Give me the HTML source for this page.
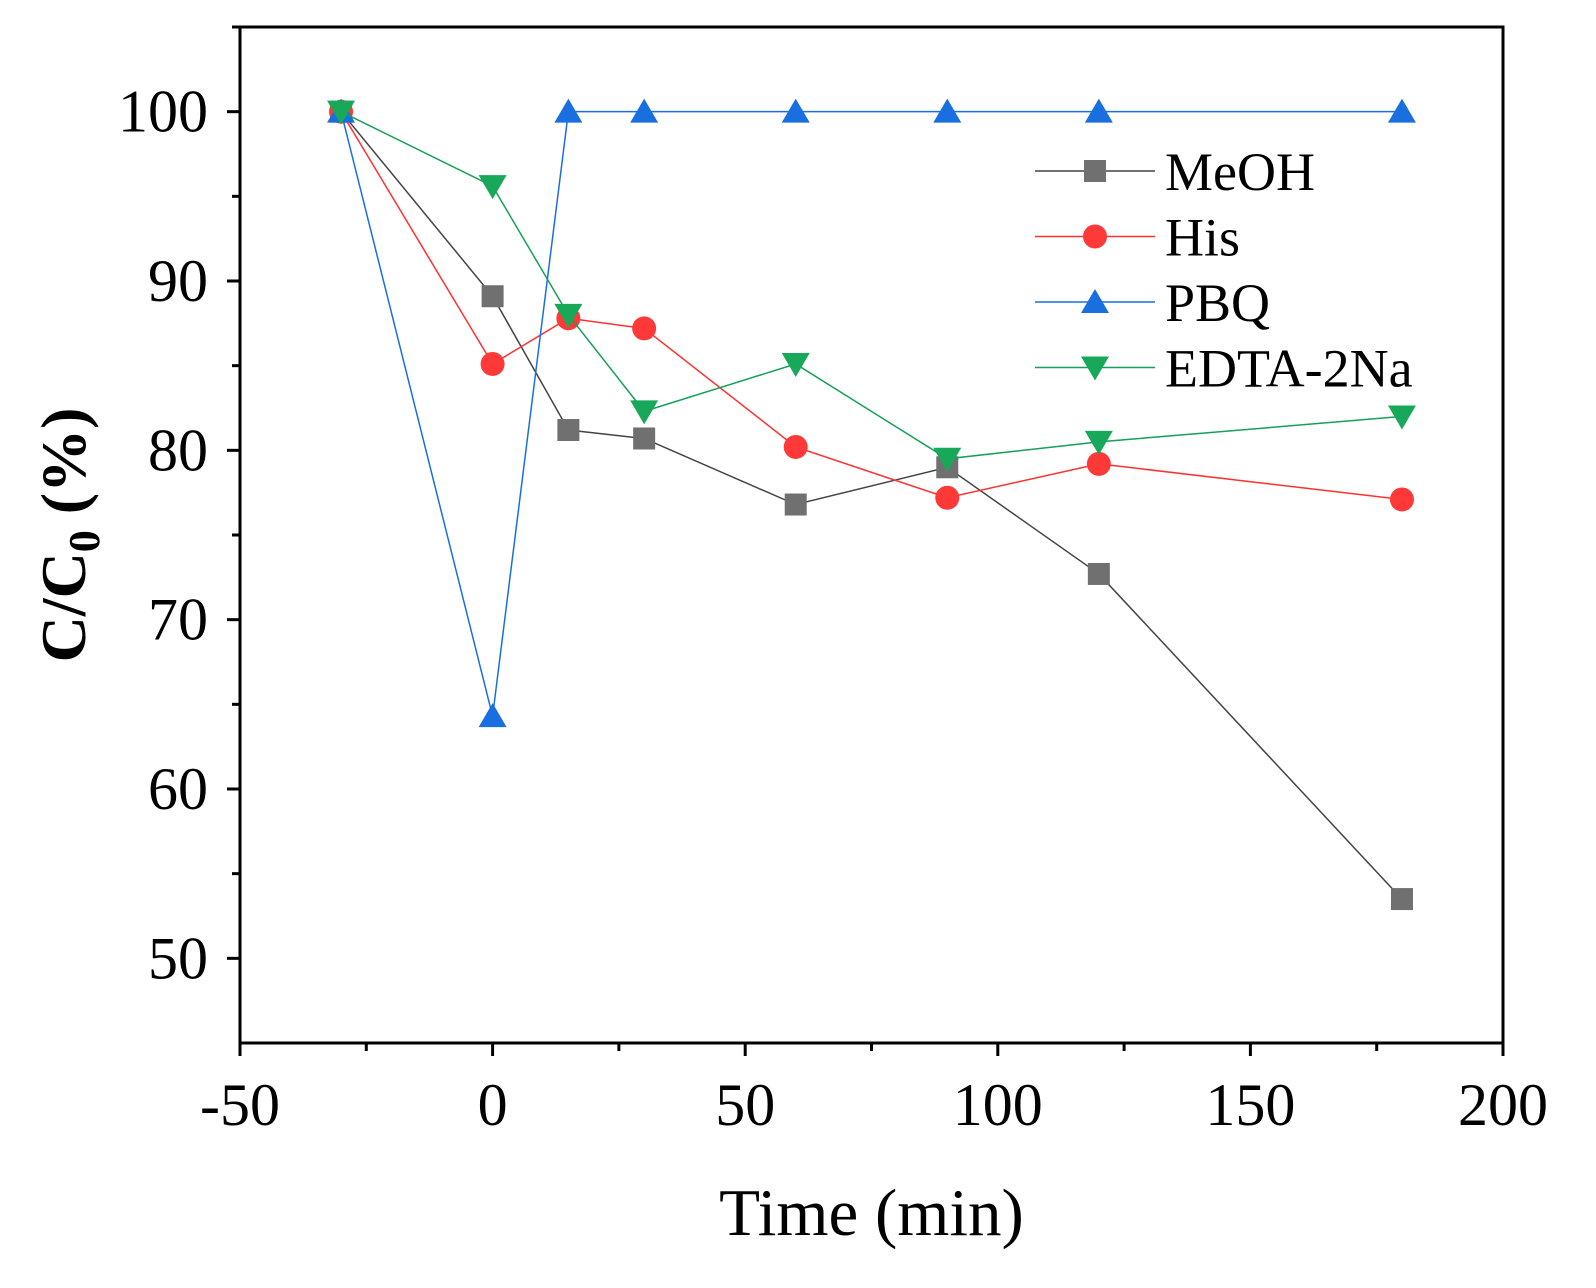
<!DOCTYPE html>
<html><head><meta charset="utf-8"><style>
html,body{margin:0;padding:0;background:#fff;}
svg{display:block;font-family:"Liberation Serif",serif;}
</style></head><body>
<svg id="chart" width="1596" height="1288" xmlns="http://www.w3.org/2000/svg"></svg>
<script>
const times = [-30, 0, 15, 30, 60, 90, 120, 180];
const meoh = [100, 89.1, 81.2, 80.7, 76.8, 79.0, 72.7, 53.5];
const his = [100, 85.1, 87.8, 87.2, 80.2, 77.2, 79.2, 77.1];
const pbq = [100, 64.3, 100, 100, 100, 100, 100, 100];
const edta = [100, 95.6, 88.0, 82.3, 85.1, 79.5, 80.5, 82.0];
const xTicks = [-50, 0, 50, 100, 150, 200];
const yTicks = [50, 60, 70, 80, 90, 100];
const seriesNames = ["MeOH", "His", "PBQ", "EDTA-2Na"];

const NS = "http://www.w3.org/2000/svg";
const svg = document.getElementById("chart");
const L = 240, R = 1503, T = 27, B = 1043;
const xMin = -50, xMax = 200, yMin = 45, yMax = 105;
const sx = v => L + (v - xMin) / (xMax - xMin) * (R - L);
const sy = v => B - (v - yMin) / (yMax - yMin) * (B - T);
function mk(tag, attrs, parent) {
  const e = document.createElementNS(NS, tag);
  for (const k in attrs) e.setAttribute(k, attrs[k]);
  (parent || svg).appendChild(e);
  return e;
}

const axes = mk("g", {});


const frame = mk("rect", {x: L, y: T, width: R - L, height: B - T, fill: "none", stroke: "#000", "stroke-width": 3}, axes);



xTicks.forEach((v, i) => {
  mk("line", {x1: sx(v), x2: sx(v), y1: B, y2: B + 13, stroke: "#000", "stroke-width": 3}, axes);
  if (i < xTicks.length - 1) {
    const m = (v + xTicks[i + 1]) / 2;
    mk("line", {x1: sx(m), x2: sx(m), y1: B, y2: B + 8, stroke: "#000", "stroke-width": 3}, axes);
  }
  const t = mk("text", {x: sx(v), y: B + 82, "text-anchor": "middle", "font-size": 60}, axes);
  t.textContent = v;
  
  
});
yTicks.forEach(v => {
  mk("line", {x1: L - 13, x2: L, y1: sy(v), y2: sy(v), stroke: "#000", "stroke-width": 3}, axes);
  mk("line", {x1: L - 8, x2: L, y1: sy(v + 5), y2: sy(v + 5), stroke: "#000", "stroke-width": 3}, axes);
  const t = mk("text", {x: L - 32, y: sy(v) + 20, "text-anchor": "end", "font-size": 60}, axes);
  t.textContent = v;
  
  
});
const xt = mk("text", {x: (L + R) / 2, y: 1235, "text-anchor": "middle", "font-size": 67});
xt.textContent = "Time (min)";


const yt = mk("text", {transform: "translate(85," + ((T + B) / 2) + ") rotate(-90)", "text-anchor": "middle", "font-size": 64, "font-weight": "bold"});
yt.innerHTML = 'C/C<tspan font-size="44" dy="14">0</tspan><tspan dy="-14"> (%)</tspan>';



function marker(type, x, y, color, g) {
  if (type === "square") return mk("rect", {x: x - 11, y: y - 11, width: 22, height: 22, fill: color}, g);
  if (type === "circle") return mk("circle", {cx: x, cy: y, r: 12, fill: color}, g);
  if (type === "up") return mk("polygon", {points: `${x},${y - 13} ${x - 14},${y + 11} ${x + 14},${y + 11}`, fill: color}, g);
  return mk("polygon", {points: `${x},${y + 13} ${x - 14},${y - 11} ${x + 14},${y - 11}`, fill: color}, g);
}
const series = [
  {vals: meoh, line: "#444", fill: "#707070", m: "square", name: "meoh"},
  {vals: his, line: "#ff3030", fill: "#ff3838", m: "circle", name: "his"},
  {vals: pbq, line: "#1a6fe0", fill: "#1a6fe0", m: "up", name: "pbq"},
  {vals: edta, line: "#13a058", fill: "#18a85a", m: "down", name: "edta-2na"}
];
series.forEach((s, si) => {
  const g = mk("g", {});
  
  
  mk("polyline", {points: times.map((t, i) => sx(t) + "," + sy(s.vals[i])).join(" "), fill: "none", stroke: s.line, "stroke-width": 1.5}, g);
  times.forEach((t, i) => {
    const p = marker(s.m, sx(t), sy(s.vals[i]), s.fill, g);
    
    
  });
  const ly = 171 + si * 65.5;
  const lg = mk("g", {}, svg);
  
  
  mk("line", {x1: 1035, x2: 1155, y1: ly, y2: ly, stroke: s.line, "stroke-width": 1.5}, lg);
  marker(s.m, 1095, ly, s.fill, lg);
  const lt = mk("text", {x: 1165, y: ly + 19, "font-size": 54}, lg);
  lt.textContent = seriesNames[si];
});
</script>
</body></html>
